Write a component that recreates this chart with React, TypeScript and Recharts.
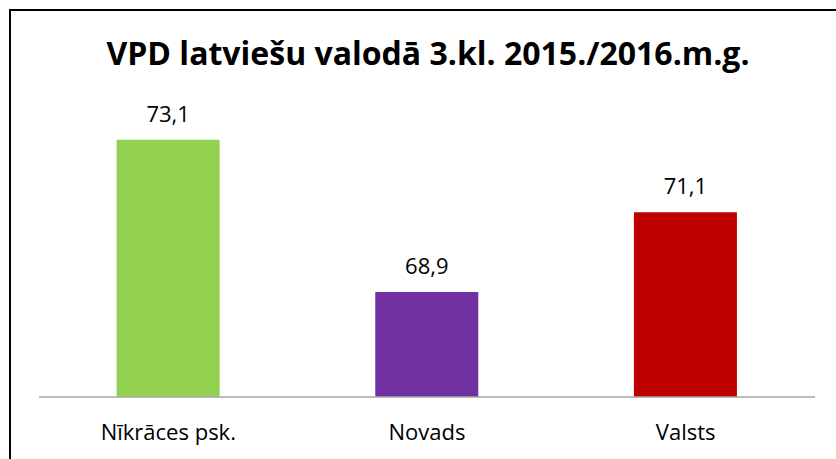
import { BarChart, Bar, XAxis, YAxis, LabelList, Cell } from 'recharts';

const categories = ['Nīkrāces psk.', 'Novads', 'Valsts'];
const values = [73.1, 68.9, 71.1];
const colors = ['#92d050', '#7030a0', '#c00000'];

const title = 'VPD latviešu valodā 3.kl. 2015./2016.m.g.';

const data = categories.map((name, i) => ({ name, value: values[i] }));

const font = '"Open Sans", "Noto Sans", sans-serif';

export default function App() {
  return (
    <div
      style={{
        position: 'fixed',
        left: 0,
        top: 0,
        width: 836,
        height: 459,
        overflow: 'hidden',
        background: '#fff',
        fontFamily: font,
      }}
    >
      {/* chart frame, cut off at right and bottom */}
      <div
        style={{
          position: 'absolute',
          left: 9,
          top: 9,
          width: 900,
          height: 520,
          border: '2px solid #000',
        }}
      />
      <div
        style={{
          position: 'absolute',
          left: 0,
          width: 856,
          top: 33,
          textAlign: 'center',
          fontWeight: 700,
          fontSize: 32,
          lineHeight: '40px',
          color: '#000',
        }}
      >
        {title}
      </div>
      <div style={{ position: 'absolute', left: 0, top: 0 }}>
        <BarChart
          width={836}
          height={459}
          data={data}
          margin={{ top: 107, right: 21, bottom: 0, left: 39 }}
          barCategoryGap="30%"
        >
          <XAxis
            dataKey="name"
            height={62}
            axisLine={{ stroke: '#a6a6a6', strokeWidth: 1.5 }}
            tickLine={false}
            tick={{ fontSize: 22, fill: '#000', fontFamily: font, dy: 19 }}
            interval={0}
          />
          <YAxis hide domain={[66, 74]} allowDataOverflow />
          <Bar dataKey="value" isAnimationActive={false}>
            {data.map((d, i) => (
              <Cell key={d.name} fill={colors[i]} />
            ))}
            <LabelList
              dataKey="value"
              position="top"
              offset={18}
              formatter={(v: number) => v.toFixed(1).replace('.', ',')}
              style={{ fontSize: 22, fill: '#000', fontFamily: font }}
            />
          </Bar>
        </BarChart>
      </div>
    </div>
  );
}
